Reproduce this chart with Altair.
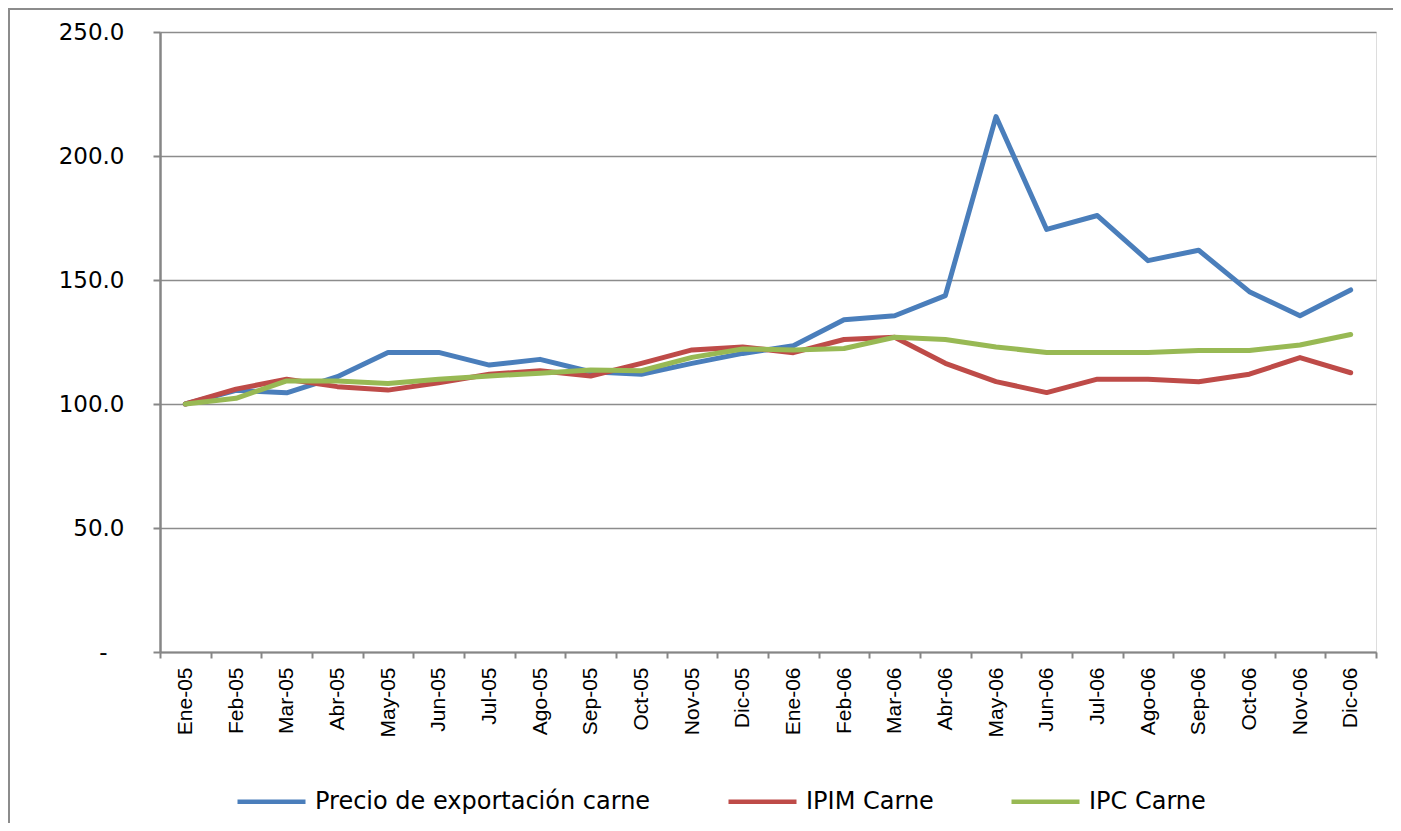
import altair as alt
import pandas as pd

meses = ["Ene-05", "Feb-05", "Mar-05", "Abr-05", "May-05", "Jun-05", "Jul-05", "Ago-05",
         "Sep-05", "Oct-05", "Nov-05", "Dic-05", "Ene-06", "Feb-06", "Mar-06", "Abr-06",
         "May-06", "Jun-06", "Jul-06", "Ago-06", "Sep-06", "Oct-06", "Nov-06", "Dic-06"]

precio_export = [100.0, 105.5, 104.5, 111.0, 120.8, 120.8, 115.7, 118.0, 113.0, 112.0, 116.4, 120.4,
                 123.5, 134.0, 135.6, 143.7, 215.9, 170.4, 176.0, 157.8, 162.0, 145.3, 135.6, 146.0]
ipim_carne = [100.0, 106.0, 110.0, 107.0, 105.6, 108.6, 112.0, 113.4, 111.3, 116.4, 121.8, 123.0,
              120.7, 126.0, 126.9, 116.4, 109.0, 104.6, 110.0, 110.0, 109.0, 112.0, 118.7, 112.6]
ipc_carne = [100.0, 102.3, 109.3, 109.3, 108.3, 110.0, 111.3, 112.4, 113.7, 113.4, 118.8, 122.2,
             121.8, 122.4, 126.9, 126.0, 123.0, 120.8, 120.8, 120.8, 121.6, 121.6, 123.8, 128.0]

series_names = ["Precio de exportación carne", "IPIM Carne", "IPC Carne"]
series_colors = ["#4A7EBB", "#BE4B48", "#98B954"]

rows = []
for name, vals in zip(series_names, [precio_export, ipim_carne, ipc_carne]):
    for i, (m, v) in enumerate(zip(meses, vals)):
        rows.append({"mes": m, "valor": v, "serie": name, "orden": i})
df = pd.DataFrame(rows)

W, H = 1216, 620

lines = alt.Chart(df).mark_line(strokeWidth=5, strokeCap="round", strokeJoin="round").encode(
    x=alt.X("mes:N", sort=meses, bandPosition=0.5,
            scale=alt.Scale(type="band", paddingInner=0, paddingOuter=0),
            axis=alt.Axis(title=None, labelAngle=-90, tickBand="extent", tickSize=6,
                          labelPadding=9, labelFont="Liberation Sans Narrow, Liberation Sans",
                          labelFontSize=21, labelColor="black", domainColor="#868686",
                          domainWidth=2, tickColor="#868686", tickWidth=2, grid=False)),
    y=alt.Y("valor:Q", scale=alt.Scale(domain=[0, 250], nice=False, zero=True),
            axis=alt.Axis(title=None, values=[0, 50, 100, 150, 200, 250], tickSize=7,
                          labelPadding={"condition": {"test": "datum.value == 0", "value": 46}, "value": 29},
                          labelFont="DejaVu Sans", labelFontSize=23,
                          labelColor="black", domainColor="#868686", domainWidth=2.5,
                          tickColor="#868686", tickWidth=2, gridColor="#8c8c8c", gridWidth=1.5,
                          labelExpr="datum.value == 0 ? '-' : format(datum.value, '.1f')")),
    color=alt.Color("serie:N", sort=series_names,
                    scale=alt.Scale(domain=series_names, range=series_colors),
                    legend=alt.Legend(title=None, orient="none", legendX=75, legendY=733,
                                      direction="horizontal", symbolType="stroke",
                                      symbolSize=4624, symbolStrokeWidth=4.5,
                                      labelOffset=7, columnPadding=68, labelLimit=600,
                                      labelFont="DejaVu Sans", labelFontSize=24,
                                      labelColor="black")),
    order="orden:Q",
)

frame_df = pd.DataFrame({"k": [0]})
left_border = alt.Chart(frame_df).mark_rule(color="#8c8c8c", strokeWidth=2).encode(
    x=alt.value(-151), y=alt.value(-24), y2=alt.value(800))
top_border = alt.Chart(frame_df).mark_rule(color="#8c8c8c", strokeWidth=2).encode(
    x=alt.value(-152), x2=alt.value(1240), y=alt.value(-23))

chart = alt.layer(left_border, top_border, lines).properties(
    width=W, height=H,
    autosize=alt.AutoSizeParams(type="none"),
    padding={"left": 152, "top": 24, "right": 17, "bottom": 171},
).configure_view(stroke=None).configure(background="white")

chart.save("out.html", embed_options={"renderer": "svg", "actions": False})
